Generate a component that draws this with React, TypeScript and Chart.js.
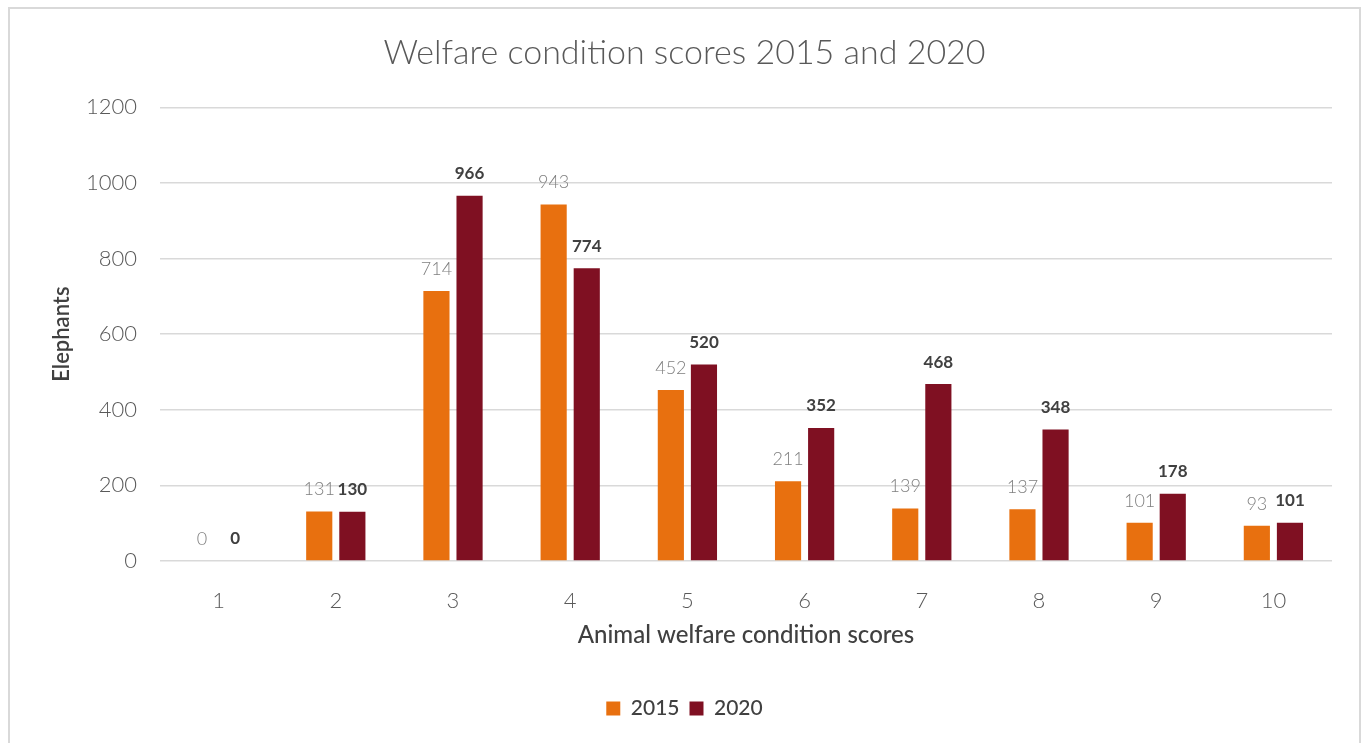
import React, { useEffect, useRef } from "react";
import { Chart, registerables } from "chart.js";

Chart.register(...registerables);

const categories = ["1", "2", "3", "4", "5", "6", "7", "8", "9", "10"];
const series2015 = [0, 131, 714, 943, 452, 211, 139, 137, 101, 93];
const series2020 = [0, 130, 966, 774, 520, 352, 468, 348, 178, 101];
const seriesNames = ["2015", "2020"];
const chartTitle = "Welfare condition scores 2015 and 2020";
const yTitle = "Elephants";
const xTitle = "Animal welfare condition scores";

const FONT = "Lato, 'DejaVu Sans', sans-serif";

const labelPlugin = {
  id: "barLabels",
  afterDatasetsDraw(chart: any) {
    const ctx = chart.ctx;
    chart.data.datasets.forEach((ds: any, di: number) => {
      const meta = chart.getDatasetMeta(di);
      ctx.save();
      if (di === 0) {
        ctx.font = `300 18px ${FONT}`;
        ctx.fillStyle = "#7f7f7f";
      } else {
        ctx.font = `700 17px ${FONT}`;
        ctx.fillStyle = "#404040";
      }
      ctx.textAlign = "center";
      ctx.textBaseline = "middle";
      meta.data.forEach((el: any, i: number) => {
        ctx.fillText(String(ds.data[i]), el.x, el.y - 22);
      });
      ctx.restore();
    });
  },
};

export default function App() {
  const ref = useRef<HTMLCanvasElement | null>(null);
  useEffect(() => {
    if (!ref.current) return;
    const chart = new Chart(ref.current, {
      type: "bar",
      data: {
        labels: categories,
        datasets: [
          {
            label: seriesNames[0],
            data: series2015,
            backgroundColor: "#E8700F",
            categoryPercentage: 0.565,
            barPercentage: 0.79,
          },
          {
            label: seriesNames[1],
            data: series2020,
            backgroundColor: "#7F1022",
            categoryPercentage: 0.565,
            barPercentage: 0.79,
          },
        ],
      },
      options: {
        responsive: false,
        animation: false,
        layout: { padding: { left: 27, right: 27, top: 0, bottom: 14 } },
        plugins: {
          title: {
            display: true,
            text: chartTitle,
            color: "#595959",
            font: { family: FONT, size: 34, weight: "300" as any },
            padding: { top: 24, bottom: 33.5 },
          },
          legend: {
            display: true,
            position: "bottom",
            labels: {
              color: "#404040",
              font: { family: FONT, size: 21, weight: "500" as any },
              boxWidth: 14,
              boxHeight: 14,
              padding: 10,
            },
          },
          tooltip: { enabled: false },
        },
        scales: {
          x: {
            grid: { display: false },
            border: { display: false },
            ticks: {
              color: "#595959",
              font: { family: FONT, size: 22, weight: "300" as any },
              padding: 19,
            },
            title: {
              display: true,
              text: xTitle,
              color: "#404040",
              font: { family: FONT, size: 24, weight: "500" as any },
              padding: { top: 0, bottom: 38 },
            },
            afterFit: (s: any) => {
              s.height = 127;
            },
          },
          y: {
            min: 0,
            max: 1200,
            ticks: {
              stepSize: 200,
              color: "#595959",
              font: { family: FONT, size: 22, weight: "300" as any },
              padding: 23,
              callback: (v: any) => String(v),
            },
            grid: { color: "#d9d9d9", lineWidth: 1.5, drawTicks: false },
            border: { display: false },
            title: {
              display: true,
              text: yTitle,
              color: "#404040",
              font: { family: FONT, size: 22, weight: "600" as any },
              padding: { top: 12, bottom: 0 },
            },
            afterFit: (s: any) => {
              s.width = 123;
            },
          },
        },
      },
      plugins: [labelPlugin],
    });
    return () => chart.destroy();
  }, []);

  return (
    <div
      style={{
        position: "fixed",
        left: 8,
        top: 7,
        width: 1353,
        height: 740,
        border: "2px solid #d9d9d9",
        borderBottom: "none",
        boxSizing: "border-box",
        background: "#fff",
      }}
    >
      <canvas ref={ref} width={1349} height={734} style={{ display: "block" }} />
    </div>
  );
}
